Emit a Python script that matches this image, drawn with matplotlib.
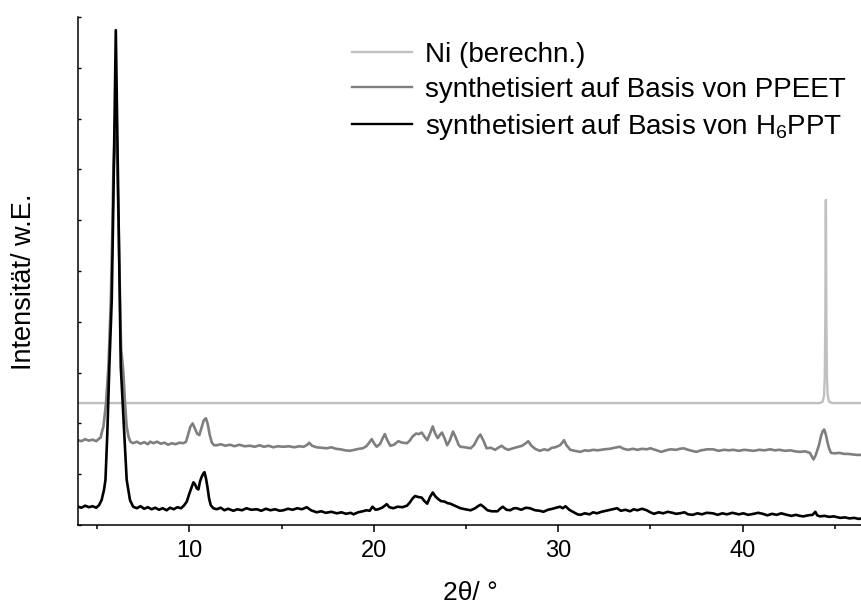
import matplotlib
matplotlib.use("Agg")
import matplotlib.pyplot as plt
from matplotlib.ticker import MultipleLocator, NullFormatter
from matplotlib.lines import Line2D

plt.rcParams['font.family'] = ['Liberation Sans', 'DejaVu Sans']
plt.rcParams['mathtext.fontset'] = 'custom'
plt.rcParams['mathtext.rm'] = 'Liberation Sans'
plt.rcParams['mathtext.it'] = 'Liberation Sans:italic'

# --- diffraction patterns (2theta in degrees, intensity in arbitrary units) ---
ni_two_theta = [3.95, 44.20, 44.35, 44.42, 44.46, 44.49, 44.52,
                44.55, 44.58, 44.62, 44.69, 44.85, 46.50]
ni_intensity = [2.40, 2.40, 2.43, 2.55, 2.90, 4.00, 6.40,
                4.00, 2.90, 2.55, 2.43, 2.40, 2.40]

ppeet_two_theta = [
    3.95, 4.15, 4.35, 4.55, 4.75, 4.95, 5.10, 5.19, 5.24, 5.34, 5.48, 5.61,
    5.74, 5.82, 5.88, 5.98, 6.09, 6.17, 6.24, 6.30, 6.36, 6.42, 6.51, 6.60,
    6.70, 6.80, 6.95, 7.15, 7.35, 7.55, 7.75, 7.87, 8.05, 8.25, 8.45, 8.65,
    8.85, 9.05, 9.25, 9.45, 9.68, 9.82, 9.95, 10.05, 10.18, 10.30, 10.42,
    10.54, 10.65, 10.78, 10.90, 11.00, 11.10, 11.22, 11.34, 11.48, 11.70,
    11.95, 12.20, 12.45, 12.70, 13.00, 13.29, 13.55, 13.80, 14.05, 14.30,
    14.55, 14.80, 15.10, 15.40, 15.70, 15.95, 16.20, 16.40, 16.50, 16.65,
    16.90, 17.20, 17.45, 17.70, 17.95, 18.20, 18.45, 18.70, 18.95, 19.20,
    19.40, 19.60, 19.75, 19.89, 20.03, 20.16, 20.35, 20.50, 20.60, 20.72,
    20.90, 21.10, 21.33, 21.55, 21.80, 21.95, 22.10, 22.30, 22.45, 22.60,
    22.75, 22.90, 23.05, 23.20, 23.33, 23.47, 23.60, 23.70, 23.85, 23.98,
    24.12, 24.30, 24.45, 24.60, 24.70, 24.95, 25.26, 25.45, 25.65, 25.78,
    25.95, 26.12, 26.35, 26.58, 26.75, 26.94, 27.10, 27.30, 27.55, 27.84,
    28.05, 28.25, 28.38, 28.55, 28.75, 29.00, 29.25, 29.45, 29.66, 29.85,
    30.10, 30.22, 30.32, 30.45, 30.66, 30.90, 31.20, 31.45, 31.65, 31.90,
    32.15, 32.50, 32.80, 33.05, 33.35, 33.55, 33.80, 34.05, 34.30, 34.55,
    34.80, 35.00, 35.25, 35.60, 35.85, 36.10, 36.40, 36.60, 36.80, 37.05,
    37.25, 37.50, 37.75, 38.10, 38.40, 38.70, 39.00, 39.25, 39.50, 39.80,
    40.10, 40.35, 40.60, 40.90, 41.20, 41.50, 41.75, 42.00, 42.30, 42.60,
    42.85, 43.10, 43.40, 43.65, 43.85, 43.95, 44.03, 44.15, 44.25, 44.35,
    44.43, 44.52, 44.60, 44.70, 44.80, 45.00, 45.25, 45.50, 45.70, 45.95,
    46.20, 46.50]
ppeet_intensity = [
    1.67, 1.65, 1.69, 1.66, 1.68, 1.65, 1.70, 1.72, 1.81, 1.94, 2.40, 3.12,
    4.43, 5.75, 7.05, 7.91, 7.05, 5.75, 4.43, 3.45, 3.25, 3.00, 2.40, 1.94,
    1.74, 1.64, 1.61, 1.64, 1.60, 1.63, 1.59, 1.64, 1.61, 1.64, 1.60, 1.62,
    1.58, 1.61, 1.59, 1.62, 1.61, 1.64, 1.80, 1.93, 2.00, 1.90, 1.80,
    1.77, 1.90, 2.06, 2.10, 1.98, 1.78, 1.62, 1.57, 1.57, 1.59,
    1.56, 1.58, 1.55, 1.58, 1.55, 1.56, 1.54, 1.57, 1.54, 1.56,
    1.53, 1.55, 1.54, 1.55, 1.53, 1.55, 1.54, 1.58, 1.62, 1.56,
    1.53, 1.52, 1.51, 1.53, 1.50, 1.49, 1.47, 1.46, 1.48, 1.50,
    1.51, 1.55, 1.62, 1.69, 1.60, 1.54, 1.60, 1.72, 1.79, 1.68,
    1.56, 1.58, 1.65, 1.62, 1.61, 1.66, 1.74, 1.80, 1.79, 1.82,
    1.74, 1.67, 1.80, 1.94, 1.80, 1.71, 1.78, 1.82, 1.70, 1.57,
    1.66, 1.84, 1.72, 1.58, 1.54, 1.53, 1.51, 1.58, 1.72, 1.78,
    1.66, 1.51, 1.52, 1.48, 1.52, 1.56, 1.51, 1.48, 1.51, 1.54,
    1.56, 1.61, 1.65, 1.56, 1.50, 1.46, 1.49, 1.47, 1.52, 1.53,
    1.57, 1.62, 1.67, 1.57, 1.48, 1.46, 1.44, 1.47, 1.46, 1.48,
    1.47, 1.49, 1.50, 1.52, 1.54, 1.50, 1.48, 1.50, 1.48, 1.50,
    1.49, 1.51, 1.48, 1.44, 1.47, 1.49, 1.48, 1.50, 1.51, 1.48,
    1.46, 1.44, 1.47, 1.49, 1.49, 1.46, 1.48, 1.47, 1.48, 1.46,
    1.48, 1.47, 1.46, 1.48, 1.47, 1.49, 1.47, 1.48, 1.46, 1.47,
    1.45, 1.44, 1.45, 1.42, 1.29, 1.36, 1.44, 1.58, 1.74, 1.85,
    1.88, 1.78, 1.64, 1.50, 1.42, 1.41, 1.42, 1.40, 1.40, 1.39,
    1.38, 1.38]

h6ppt_two_theta = [
    3.95, 4.15, 4.35, 4.55, 4.75, 4.95, 5.10, 5.24, 5.37, 5.45, 5.55, 5.66,
    5.79, 5.88, 5.94, 6.01, 6.08, 6.14, 6.22, 6.28, 6.47, 6.60, 6.78, 6.95,
    7.15, 7.35, 7.55, 7.75, 7.95, 8.15, 8.35, 8.55, 8.77, 8.95, 9.15, 9.35,
    9.55, 9.70, 9.86, 10.00, 10.13, 10.22, 10.31, 10.40, 10.49, 10.58,
    10.67, 10.75, 10.82, 10.90, 10.98, 11.07, 11.16, 11.30, 11.48, 11.70,
    11.90, 12.10, 12.39, 12.60, 12.85, 13.10, 13.35, 13.66, 13.90, 14.15,
    14.40, 14.65, 14.90, 15.10, 15.35, 15.60, 15.85, 16.10, 16.37, 16.60,
    16.90, 17.15, 17.40, 17.70, 18.00, 18.25, 18.50, 18.75, 18.90, 19.15,
    19.40, 19.60, 19.78, 19.93, 20.10, 20.24, 20.45, 20.60, 20.70, 20.85,
    21.06, 21.30, 21.55, 21.80, 21.95, 22.10, 22.24, 22.42, 22.60, 22.75,
    22.90, 23.05, 23.20, 23.35, 23.50, 23.65, 23.85, 24.00, 24.15, 24.40,
    24.70, 24.95, 25.26, 25.50, 25.65, 25.80, 25.95, 26.17, 26.40, 26.71,
    26.85, 27.00, 27.20, 27.40, 27.60, 27.75, 28.00, 28.25, 28.47, 28.75,
    29.00, 29.20, 29.45, 29.70, 29.90, 30.10, 30.25, 30.40, 30.60, 30.85,
    31.05, 31.20, 31.45, 31.70, 31.90, 32.10, 32.35, 32.60, 32.85, 33.00,
    33.20, 33.40, 33.65, 33.90, 34.10, 34.30, 34.55, 34.80, 35.00, 35.20,
    35.45, 35.70, 35.95, 36.20, 36.40, 36.60, 36.85, 37.05, 37.30, 37.55,
    37.80, 38.05, 38.40, 38.65, 38.90, 39.15, 39.45, 39.80, 40.05, 40.30,
    40.60, 40.85, 41.10, 41.35, 41.60, 41.85, 42.10, 42.40, 42.65, 42.90,
    43.10, 43.30, 43.55, 43.80, 43.95, 44.05, 44.20, 44.45, 44.70, 44.95,
    45.30, 45.55, 45.80, 46.05, 46.30, 46.50]
h6ppt_intensity = [
    0.36, 0.34, 0.38, 0.35, 0.37, 0.34, 0.39, 0.49, 0.69, 0.89, 1.81, 3.12,
    4.43, 6.40, 8.00, 9.74, 8.00, 6.40, 4.40, 3.12, 1.81, 0.89, 0.49, 0.36,
    0.33, 0.37, 0.32, 0.35, 0.31, 0.34, 0.30, 0.33, 0.29, 0.34, 0.31, 0.35,
    0.33, 0.38, 0.46, 0.62, 0.75, 0.84, 0.80, 0.72, 0.70, 0.86,
    0.95, 1.01, 1.04, 0.92, 0.75, 0.52, 0.39, 0.33, 0.31, 0.34,
    0.29, 0.32, 0.28, 0.31, 0.29, 0.33, 0.30, 0.31, 0.28, 0.32,
    0.29, 0.31, 0.28, 0.29, 0.32, 0.30, 0.33, 0.31, 0.35, 0.29,
    0.25, 0.27, 0.24, 0.26, 0.23, 0.25, 0.22, 0.24, 0.21, 0.25,
    0.27, 0.29, 0.28, 0.36, 0.30, 0.31, 0.34, 0.38, 0.41, 0.35,
    0.33, 0.36, 0.35, 0.38, 0.44, 0.52, 0.57, 0.55, 0.54, 0.47,
    0.42, 0.55, 0.64, 0.56, 0.51, 0.47, 0.46, 0.43, 0.42, 0.38,
    0.33, 0.31, 0.29, 0.33, 0.37, 0.40, 0.36, 0.29, 0.27, 0.27,
    0.32, 0.36, 0.30, 0.29, 0.33, 0.33, 0.30, 0.34, 0.33, 0.29,
    0.28, 0.26, 0.30, 0.32, 0.34, 0.36, 0.33, 0.37, 0.30, 0.25,
    0.21, 0.20, 0.23, 0.21, 0.25, 0.23, 0.26, 0.28, 0.30, 0.31,
    0.33, 0.28, 0.30, 0.27, 0.31, 0.29, 0.32, 0.29, 0.25, 0.22,
    0.25, 0.23, 0.26, 0.24, 0.22, 0.23, 0.25, 0.21, 0.20, 0.23,
    0.21, 0.24, 0.23, 0.20, 0.23, 0.21, 0.24, 0.21, 0.23, 0.20,
    0.22, 0.24, 0.22, 0.19, 0.22, 0.20, 0.23, 0.20, 0.18, 0.20,
    0.18, 0.17, 0.19, 0.20, 0.26, 0.19, 0.17, 0.18, 0.16, 0.17,
    0.14, 0.15, 0.13, 0.14, 0.12, 0.13]

series_labels = ['Ni (berechn.)',
                 'synthetisiert auf Basis von PPEET',
                 'synthetisiert auf Basis von H$_6$PPT']
series_colors = ['#c0c0c0', '#7f7f7f', '#000000']

x_major_ticks = [10, 20, 30, 40]

fig = plt.figure(figsize=(8.62, 6.08), dpi=100)
ax = fig.add_axes([78 / 862, 1 - 525 / 608, 784 / 862, 508 / 608])

line_kw = dict(solid_joinstyle='round', solid_capstyle='round')
ax.plot(ni_two_theta, ni_intensity, color=series_colors[0], lw=1.7, **line_kw)
ax.plot(ppeet_two_theta, ppeet_intensity, color=series_colors[1], lw=1.9, **line_kw)
ax.plot(h6ppt_two_theta, h6ppt_intensity, color=series_colors[2], lw=1.9, **line_kw)

ax.set_xlim(3.96, 46.48)
ax.set_ylim(0, 10)

for side in ('top', 'right'):
    ax.spines[side].set_visible(False)
for side in ('left', 'bottom'):
    ax.spines[side].set_linewidth(1.1)

ax.set_xticks(x_major_ticks)
ax.xaxis.set_minor_locator(MultipleLocator(5))
ax.tick_params(axis='x', which='major', direction='out', length=5, width=1.1,
               labelsize=17, pad=6)
ax.tick_params(axis='x', which='minor', direction='out', length=3, width=1.1)

ax.yaxis.set_major_locator(MultipleLocator(1))
ax.yaxis.set_major_formatter(NullFormatter())
ax.tick_params(axis='y', which='major', direction='in', length=2, width=1.0)

ax.set_xlabel('2θ/ °', fontsize=19)
ax.xaxis.set_label_coords(0.5, -0.11)
ax.set_ylabel('Intensität/ w.E.', fontsize=19.5)
ax.yaxis.set_label_coords(-0.052, 0.478)

handles = [Line2D([], [], color=c, lw=1.7) for c in series_colors]
ax.legend(handles, series_labels, loc='upper left',
          bbox_to_anchor=(352 / 862, 1 - 42 / 608),
          bbox_transform=fig.transFigure, frameon=False, fontsize=20,
          handlelength=2.16, handletextpad=0.47, labelspacing=0.32,
          borderpad=0, borderaxespad=0)

fig.savefig('out.png', dpi=100)
